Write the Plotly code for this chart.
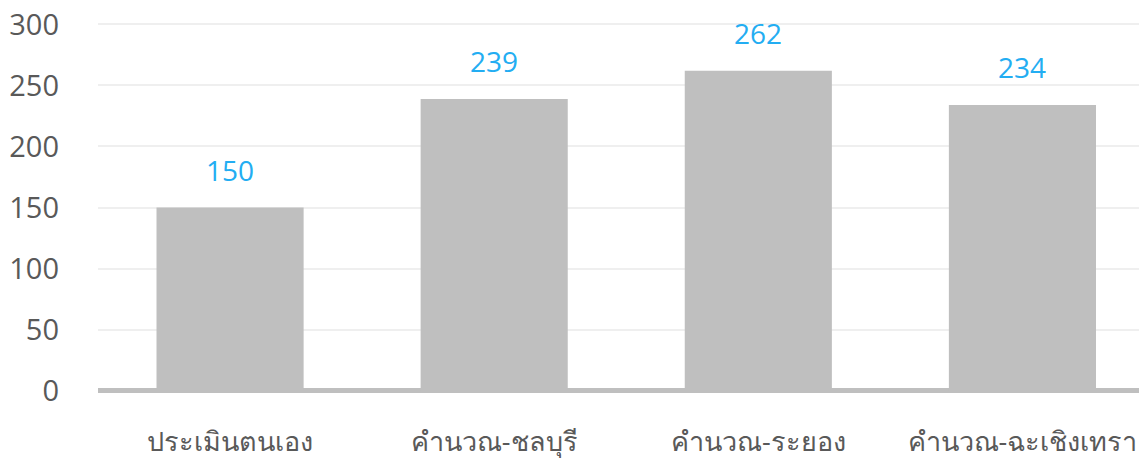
import plotly.graph_objects as go

categories = ["ประเมินตนเอง", "คำนวณ-ชลบุรี", "คำนวณ-ระยอง", "คำนวณ-ฉะเชิงเทรา"]
values = [150, 239, 262, 234]
y_ticks = [0, 50, 100, 150, 200, 250, 300]

fig = go.Figure()
fig.add_trace(go.Bar(
    x=categories, y=values, width=0.557,
    marker=dict(color="#BFBFBF", line=dict(width=0)),
    hoverinfo="skip",
))

for c, v in zip(categories, values):
    fig.add_annotation(x=c, y=v, text=str(v), showarrow=False,
                       yanchor="middle", yshift=38,
                       font=dict(family="Open Sans, Noto Sans, sans-serif", size=28, color="#23ADF2"))

fig.update_layout(
    width=1147, height=460,
    margin=dict(l=90, r=8, t=13.5, b=74.5, autoexpand=False),
    paper_bgcolor="white", plot_bgcolor="white",
    showlegend=False,
    font=dict(family="Open Sans, Noto Sans, sans-serif", color="#595959"),
)
fig.update_xaxes(
    range=[-0.5, 3.4716], showgrid=False, showline=False, zeroline=False,
    ticks="", tickfont=dict(size=27, color="#595959"), ticklabelstandoff=30,
    ticklabeloverflow="allow", automargin=False,
)
fig.update_yaxes(
    range=[-2, 302], tickvals=y_ticks, showgrid=True, gridcolor="#EFEFEF", gridwidth=2,
    zeroline=True, zerolinecolor="#BFBFBF", zerolinewidth=5,
    showline=False, ticks="", tickfont=dict(size=29, color="#595959"), ticklabelstandoff=38,
    ticklabeloverflow="allow", automargin=False,
)

fig.write_html("out.html")
